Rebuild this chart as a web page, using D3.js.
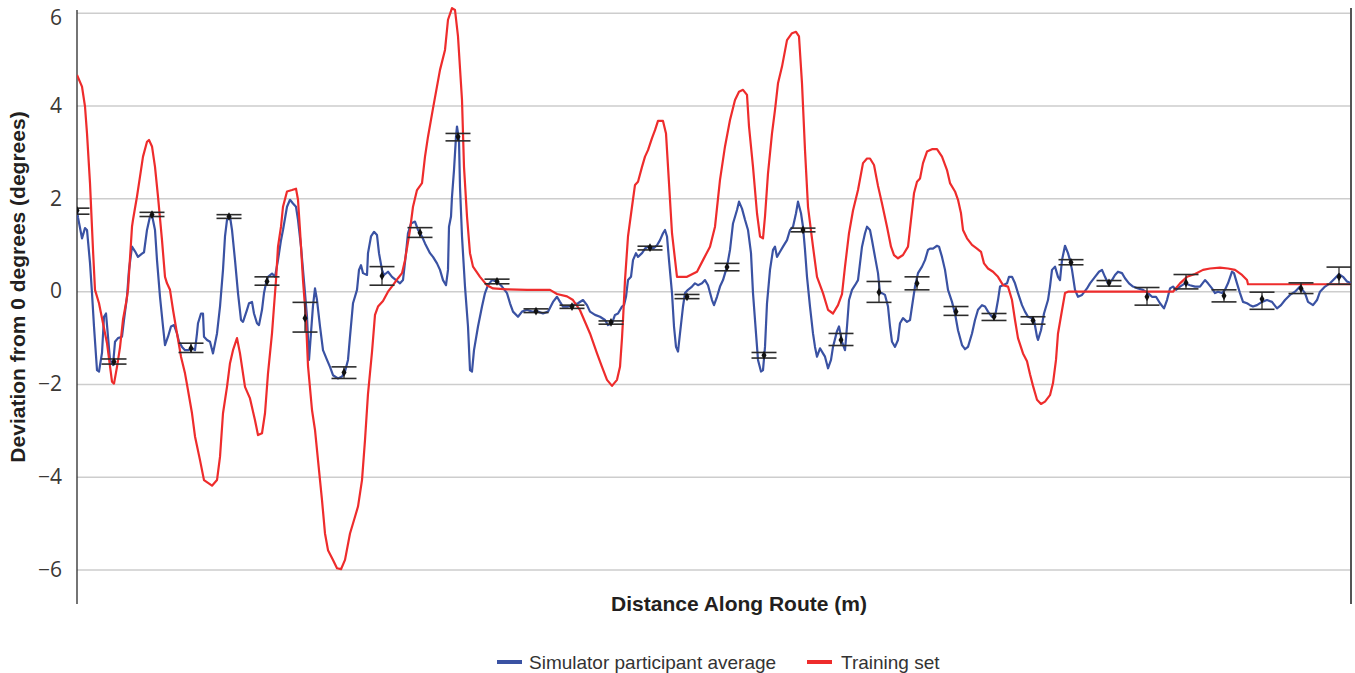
<!DOCTYPE html>
<html>
<head>
<meta charset="utf-8">
<script src="https://cdn.jsdelivr.net/npm/d3@7"></script>
<style>
  body { margin: 0; background: #fff; }
  svg { display: block; }
</style>
</head>
<body>
<div id="chart"></div>
<script>
// distance along route (m) and deviation (degrees) for each series
const blueDist = [0,1,5,8,10,13,15,17,20,22,25,27,29,31,33,36,38,41,45,47,50,52,55,58,61,65,67,70,73,75,78,80,83,86,88,91,94,97,100,102,105,108,111,115,118,120,121,124,126,127,130,133,136,140,143,146,148,150,153,155,158,161,164,166,170,172,175,177,180,182,185,187,189,191,195,198,201,204,206,210,213,216,219,221,224,226,228,230,232,236,238,240,243,246,250,253,256,261,265,268,271,273,276,280,282,284,286,290,291,294,297,300,302,305,307,311,315,319,323,326,329,331,334,338,341,345,348,353,356,360,363,366,369,371,372,374,375,377,379,380,382,383,385,388,391,393,395,397,401,405,408,411,415,420,425,430,433,436,441,445,450,455,461,466,471,476,480,483,486,491,496,501,506,510,513,518,523,528,531,535,538,541,545,547,549,551,554,556,559,561,565,568,571,576,580,583,586,588,590,592,595,597,599,601,603,606,608,611,615,618,621,625,628,631,635,637,640,643,646,650,653,656,660,662,665,668,671,674,676,679,681,684,686,688,690,693,696,698,700,703,706,710,713,716,719,721,724,726,728,730,733,736,738,740,743,746,748,751,754,756,760,762,765,768,770,772,775,778,781,783,785,788,790,793,795,798,801,803,805,808,811,813,815,818,821,823,826,830,833,835,838,841,845,848,851,853,856,860,862,865,868,871,875,878,881,885,888,891,895,898,901,905,908,911,915,918,921,923,926,930,932,935,938,941,945,948,951,955,957,960,961,964,967,971,973,975,978,981,983,985,988,991,993,995,998,1001,1005,1010,1013,1018,1022,1025,1028,1031,1035,1038,1041,1045,1048,1052,1056,1061,1066,1071,1075,1079,1083,1087,1090,1093,1096,1099,1103,1108,1113,1118,1123,1128,1131,1135,1138,1141,1145,1148,1151,1155,1157,1160,1163,1166,1170,1173,1176,1180,1185,1190,1195,1200,1204,1208,1213,1218,1223,1228,1231,1236,1240,1243,1248,1253,1258,1262,1266,1270,1274];
const blueDev = [1.76,1.6,1.15,1.37,1.33,0.62,-0.03,-0.75,-1.69,-1.72,-1.32,-0.54,-0.47,-0.97,-1.47,-1.58,-1.08,-1.0,-0.97,-0.61,-0.11,0.47,0.97,0.87,0.75,0.82,0.85,1.33,1.62,1.65,1.33,0.68,-0.11,-0.75,-1.15,-0.97,-0.75,-0.72,-0.9,-1.08,-1.19,-1.26,-1.26,-1.22,-1.26,-0.9,-0.68,-0.47,-0.47,-0.97,-1.04,-1.08,-1.33,-0.9,-0.32,0.47,1.19,1.55,1.62,1.33,0.68,-0.03,-0.61,-0.65,-0.39,-0.25,-0.22,-0.47,-0.68,-0.72,-0.39,-0.03,0.18,0.32,0.39,0.32,0.68,1.11,1.33,1.83,1.98,1.9,1.83,1.55,0.97,0.47,-0.03,-0.54,-1.47,-0.3,0.07,-0.18,-0.75,-1.26,-1.47,-1.62,-1.8,-1.87,-1.83,-1.72,-1.47,-0.97,-0.25,0.04,0.47,0.57,0.4,0.36,0.83,1.19,1.29,1.22,0.83,0.47,0.36,0.43,0.32,0.25,0.18,0.25,0.83,1.26,1.47,1.51,1.33,1.19,1.04,0.83,0.75,0.61,0.47,0.25,0.14,0.47,1.4,1.62,2.05,2.62,3.34,3.56,3.26,2.26,1.19,0.11,-0.75,-1.69,-1.72,-1.26,-0.75,-0.32,-0.03,0.14,0.25,0.22,0.11,-0.03,-0.25,-0.43,-0.54,-0.43,-0.39,-0.43,-0.43,-0.47,-0.43,-0.22,-0.11,-0.22,-0.32,-0.32,-0.29,-0.25,-0.18,-0.29,-0.43,-0.5,-0.54,-0.61,-0.72,-0.68,-0.5,-0.47,-0.32,-0.29,-0.11,0.25,0.32,0.68,0.83,0.75,0.83,0.93,0.97,0.93,1.0,1.11,1.26,1.33,1.19,0.68,-0.03,-0.75,-1.19,-1.29,-0.9,-0.32,-0.03,0.04,0.11,0.18,0.14,0.18,0.25,0.14,-0.18,-0.29,-0.11,0.11,0.25,0.54,0.9,1.47,1.76,1.94,1.79,1.55,1.33,0.83,-0.03,-0.9,-1.47,-1.72,-1.69,-1.19,-0.25,0.47,0.9,0.97,0.75,0.86,0.97,1.11,1.33,1.4,1.69,1.94,1.69,1.4,0.9,0.32,-0.32,-0.9,-1.19,-1.4,-1.22,-1.33,-1.4,-1.65,-1.47,-1.19,-0.85,-0.75,-1.08,-1.26,-0.75,-0.18,0.04,0.14,0.25,0.61,0.97,1.26,1.4,1.33,1.11,0.75,0.4,-0.03,-0.03,-0.07,-0.32,-0.75,-1.08,-1.19,-1.04,-0.68,-0.57,-0.65,-0.61,-0.32,0.11,0.4,0.54,0.68,0.9,0.93,0.93,0.99,0.97,0.75,0.47,0.04,-0.22,-0.47,-0.83,-1.15,-1.24,-1.19,-0.9,-0.61,-0.39,-0.29,-0.32,-0.43,-0.54,-0.54,-0.18,0.11,0.14,0.18,0.32,0.32,0.18,-0.03,-0.29,-0.43,-0.54,-0.57,-0.61,-0.97,-1.04,-0.83,-0.47,-0.18,0.11,0.47,0.54,0.32,0.25,0.68,0.99,0.83,0.68,0.47,0.04,-0.11,-0.07,0.07,0.18,0.32,0.43,0.47,0.32,0.18,0.25,0.36,0.43,0.4,0.29,0.18,0.11,0.07,0.04,-0.03,-0.11,-0.11,-0.25,-0.36,-0.18,0.07,0.11,0.04,0.11,0.18,0.14,0.11,0.11,0.25,0.18,0.07,-0.03,0.0,-0.03,0.04,0.18,0.43,0.4,0.18,-0.03,-0.22,-0.25,-0.29,-0.32,-0.29,-0.22,-0.18,-0.22,-0.36,-0.29,-0.18,-0.07,0.0,0.11,-0.03,-0.22,-0.29,-0.18,0.0,0.11,0.18,0.29,0.38,0.32,0.22,0.18];

const redDist = [0,5,8,10,13,16,18,22,30,35,37,40,43,46,49,51,55,56,60,63,66,70,72,75,78,81,85,88,90,93,96,100,104,108,110,115,118,123,127,131,135,140,143,146,150,153,156,160,163,168,173,178,181,185,188,191,195,197,199,201,204,206,210,215,219,221,223,226,229,231,235,238,241,245,248,251,256,260,264,268,273,278,281,285,288,291,295,298,301,306,311,316,321,325,328,333,336,340,345,348,351,356,363,368,371,375,378,381,385,387,390,393,396,403,410,416,430,450,473,480,490,496,503,510,513,520,525,530,535,540,543,545,546,548,551,555,558,561,565,568,571,575,578,581,586,589,592,595,600,610,620,626,633,638,643,648,653,658,662,666,670,672,676,680,683,686,688,691,695,698,701,705,710,715,719,722,725,728,731,736,740,746,751,756,761,765,768,772,776,781,786,790,793,797,801,805,810,814,817,821,826,831,834,837,840,843,846,850,855,860,865,870,873,878,881,884,886,890,895,900,904,907,911,916,921,926,931,935,938,941,946,950,953,956,960,964,968,973,976,979,981,985,988,991,1096,1103,1110,1118,1126,1133,1143,1151,1158,1165,1170,1171,1274];
const redDev = [4.67,4.42,3.99,3.41,2.34,0.9,0.04,-0.25,-1.11,-1.94,-1.98,-1.62,-1.2,-0.6,-0.25,0.04,1.4,1.55,2.05,2.48,2.91,3.23,3.27,3.13,2.69,2.05,1.11,0.32,0.18,0.04,-0.39,-0.9,-1.4,-1.76,-2.0,-2.62,-3.12,-3.63,-4.06,-4.12,-4.18,-4.06,-3.56,-2.62,-2.05,-1.54,-1.26,-1.0,-1.33,-2.05,-2.3,-2.77,-3.09,-3.05,-2.62,-1.76,-0.9,-0.32,0.25,0.97,1.4,1.83,2.16,2.19,2.22,1.98,1.33,0.25,-0.61,-1.6,-2.55,-2.98,-3.63,-4.49,-5.21,-5.57,-5.78,-5.96,-5.98,-5.78,-5.21,-4.85,-4.63,-4.06,-3.2,-2.2,-1.3,-0.5,-0.32,-0.2,0.0,0.14,0.29,0.4,0.68,1.33,1.83,2.19,2.34,2.91,3.34,3.95,4.78,5.21,5.86,6.11,6.07,5.5,4.13,2.69,1.62,0.83,0.54,0.32,0.14,0.07,0.05,0.04,0.04,-0.05,-0.1,-0.18,-0.4,-0.75,-0.9,-1.33,-1.62,-1.9,-2.03,-1.9,-1.62,-1.0,-0.61,0.25,1.19,1.83,2.3,2.37,2.69,2.91,3.05,3.31,3.48,3.68,3.68,3.41,2.34,1.26,0.32,0.32,0.43,0.68,0.97,1.4,2.41,3.13,3.7,4.13,4.31,4.35,4.24,3.56,2.69,1.69,1.19,1.15,1.62,2.55,3.41,3.92,4.49,4.85,5.42,5.57,5.6,5.5,4.49,3.05,1.83,0.97,0.32,-0.03,-0.39,-0.47,-0.29,-0.05,0.54,1.26,1.75,2.19,2.77,2.87,2.87,2.73,2.28,1.9,1.4,0.97,0.79,0.72,0.79,0.97,1.55,2.12,2.37,2.44,2.77,3.02,3.07,3.07,2.91,2.62,2.34,2.16,1.98,1.69,1.33,1.15,1.01,0.93,0.86,0.61,0.5,0.43,0.32,0.14,0.11,-0.18,-0.61,-1.0,-1.33,-1.5,-1.78,-2.03,-2.33,-2.42,-2.37,-2.23,-1.97,-1.47,-0.9,-0.4,-0.03,0.0,0.0,0.18,0.32,0.38,0.47,0.5,0.52,0.5,0.47,0.36,0.25,0.16,0.16];

// participant means with error bars
const barDist = [0,37,75,114,152,190,228,267,305,343,381,420,459,495,534,573,610,650,687,726,764,802,840,879,917,956,994,1032,1070,1109,1147,1185,1224,1262];
const barMean = [1.75,-1.51,1.66,-1.22,1.62,0.22,-0.57,-1.74,0.34,1.27,3.34,0.22,-0.42,-0.32,-0.66,0.95,-0.11,0.53,-1.37,1.33,-1.04,-0.01,0.18,-0.43,-0.54,-0.62,0.63,0.19,-0.11,0.19,-0.09,-0.16,0.07,0.32];
const barLow = [1.67,-1.56,1.62,-1.31,1.58,0.14,-0.87,-1.87,0.14,1.17,3.25,0.17,-0.45,-0.36,-0.7,0.9,-0.15,0.45,-1.43,1.29,-1.16,-0.23,0.04,-0.51,-0.62,-0.7,0.58,0.12,-0.29,0.06,-0.22,-0.38,-0.04,0.16];
const barHigh = [1.8,-1.45,1.71,-1.11,1.66,0.32,-0.23,-1.62,0.54,1.38,3.41,0.27,-0.37,-0.29,-0.63,0.98,-0.06,0.61,-1.31,1.37,-0.9,0.22,0.32,-0.32,-0.47,-0.54,0.69,0.24,0.09,0.37,0.04,-0.01,0.19,0.53];

const yTicks = [-6, -4, -2, 0, 2, 4, 6];
const seriesNames = ["Simulator participant average", "Training set"];
const seriesColors = ["#3a52a3", "#ee2c2c"];

const width = 1355, height = 673;
const plot = {left: 77, right: 1351, top: 10, bottom: 604};

let svg = d3.select("#chart")
    .append("svg")
    .attr("width", width)
    .attr("height", height);

let x = d3.scaleLinear()
    .domain([0, 1274])
    .range([plot.left, plot.right]);

let y = d3.scaleLinear()
    .domain([-6.73, 6.07])
    .range([plot.bottom, plot.top]);

svg.append("clipPath")
    .attr("id", "plotclip")
    .append("rect")
    .attr("x", plot.left)
    .attr("y", 0)
    .attr("width", plot.right - plot.left)
    .attr("height", plot.bottom);

// gridlines
svg.append("g")
    .selectAll("line")
    .data(yTicks)
    .enter()
    .append("line")
    .attr("x1", plot.left)
    .attr("x2", plot.right)
    .attr("y1", d => y(d))
    .attr("y2", d => y(d))
    .attr("stroke", "#cdcdcd")
    .attr("stroke-width", 1.5);

// y tick labels (top one nudged down so it stays on the page)
let yAxis = svg.append("g")
    .attr("transform", `translate(${plot.left}, 0)`)
    .call(d3.axisLeft(y)
        .tickValues(yTicks)
        .tickSize(0)
        .tickPadding(15)
        .tickFormat(d => d < 0 ? "\u2212" + Math.abs(d) : d));
yAxis.select(".domain").remove();
yAxis.selectAll("text")
    .attr("dy", d => d === 6 ? "0.55em" : "0.3em")
    .style("font-family", "'Open Sans', sans-serif")
    .style("font-size", "21px")
    .attr("fill", "#3b3835");

// left and right frame lines
svg.append("line")
    .attr("x1", plot.left).attr("x2", plot.left)
    .attr("y1", plot.top).attr("y2", plot.bottom)
    .attr("stroke", "#2a2a2a").attr("stroke-width", 1.3);
svg.append("line")
    .attr("x1", plot.right).attr("x2", plot.right)
    .attr("y1", plot.top - 2).attr("y2", plot.bottom)
    .attr("stroke", "#555").attr("stroke-width", 2);

let lineGen = d3.line()
    .x(d => x(d[0]))
    .y(d => y(d[1]));

let lines = svg.append("g").attr("clip-path", "url(#plotclip)");

lines.append("path")
    .datum(blueDist.map((d, i) => [d, blueDev[i]]))
    .attr("fill", "none")
    .attr("stroke", seriesColors[0])
    .attr("stroke-width", 2.2)
    .attr("stroke-linejoin", "round")
    .attr("d", lineGen);

lines.append("path")
    .datum(redDist.map((d, i) => [d, redDev[i]]))
    .attr("fill", "none")
    .attr("stroke", seriesColors[1])
    .attr("stroke-width", 2.2)
    .attr("stroke-linejoin", "round")
    .attr("d", lineGen);

// error bars
let bars = lines.append("g")
    .selectAll("g")
    .data(barDist.map((d, i) => ({d: d, m: barMean[i], lo: barLow[i], hi: barHigh[i]})))
    .enter()
    .append("g");

bars.append("line")
    .attr("x1", d => x(d.d)).attr("x2", d => x(d.d))
    .attr("y1", d => y(d.lo)).attr("y2", d => y(d.hi))
    .attr("stroke", "#222").attr("stroke-width", 1.2);

bars.selectAll(".cap")
    .data(d => [d.lo, d.hi].map(v => ({d: d.d, v: v})))
    .enter()
    .append("line")
    .attr("class", "cap")
    .attr("x1", d => x(d.d) - 12.5).attr("x2", d => x(d.d) + 12.5)
    .attr("y1", d => y(d.v)).attr("y2", d => y(d.v))
    .attr("stroke", "#2b2b2b").attr("stroke-width", 1.6);

bars.append("path")
    .attr("transform", d => `translate(${x(d.d)}, ${y(d.m)})`)
    .attr("d", d3.symbol().type(d3.symbolDiamond).size(22))
    .attr("fill", "#111");

// axis titles
svg.append("text")
    .attr("transform", `translate(25, ${(plot.top + plot.bottom) / 2 - 20}) rotate(-90)`)
    .style("text-anchor", "middle")
    .style("font-family", "'Liberation Sans', Arial, sans-serif")
    .style("font-weight", "bold")
    .style("font-size", "21px")
    .attr("fill", "#231f20")
    .text("Deviation from 0 degrees (degrees)");

svg.append("text")
    .attr("x", (plot.left + plot.right) / 2 + 25)
    .attr("y", 611)
    .style("text-anchor", "middle")
    .style("font-family", "'Liberation Sans', Arial, sans-serif")
    .style("font-weight", "bold")
    .style("font-size", "21px")
    .attr("fill", "#231f20")
    .text("Distance Along Route (m)");

// legend
let legendX = [497, 807];
let legend = svg.append("g")
    .selectAll("g")
    .data(seriesNames)
    .enter()
    .append("g")
    .attr("transform", (d, i) => `translate(${legendX[i]}, 662)`);

legend.append("rect")
    .attr("x", 0).attr("y", -2)
    .attr("width", 25).attr("height", 4)
    .attr("fill", (d, i) => seriesColors[i]);

legend.append("text")
    .attr("x", (d, i) => i === 0 ? 32 : 34)
    .attr("y", 7)
    .style("font-family", "'Liberation Sans', Arial, sans-serif")
    .style("font-size", "19px")
    .attr("fill", "#333")
    .text(d => d);
</script>
</body>
</html>
